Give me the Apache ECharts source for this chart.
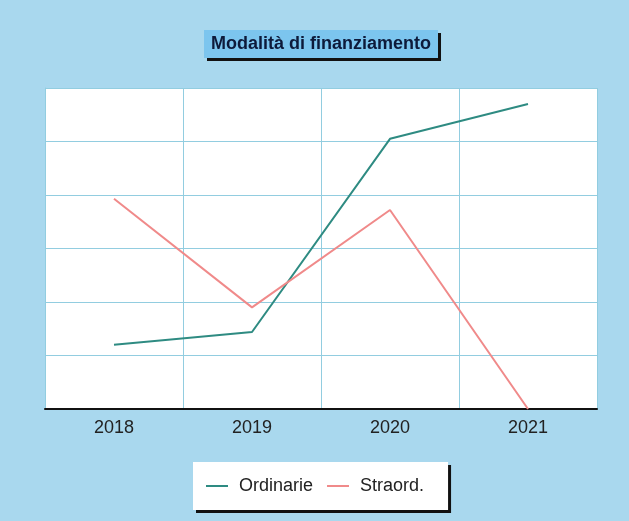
<!DOCTYPE html>
<html>
<head>
<meta charset="utf-8">
<script src="https://cdn.jsdelivr.net/npm/echarts@6/dist/echarts.min.js"></script>
<style>
  html, body { margin: 0; padding: 0; background: #a9d8ee; }
  #chart { width: 629px; height: 521px; }
</style>
</head>
<body>
<div id="chart"></div>
<script>
const years = ['2018', '2019', '2020', '2021']
const ordinarie = [1.2, 1.44, 5.05, 5.7]
const straord = [3.93, 1.9, 3.72, 0]

const chart = echarts.init(document.getElementById('chart'))

const option = {
  backgroundColor: '#a9d8ee',
  animation: false,
  title: {
    text: 'Modalità di finanziamento',
    left: 204,
    top: 30,
    padding: [5, 7, 5, 7],
    backgroundColor: '#7cc5ee',
    shadowColor: '#111',
    shadowOffsetX: 3,
    shadowOffsetY: 3,
    shadowBlur: 0,
    textStyle: {
      fontFamily: 'Liberation Sans, Arial, sans-serif',
      fontSize: 18,
      fontWeight: 'bold',
      color: '#0d1a3a'
    }
  },
  legend: {
    left: 193,
    top: 462,
    padding: [15, 24, 15, 13],
    itemGap: 14,
    itemWidth: 22,
    itemHeight: 2,
    backgroundColor: '#ffffff',
    shadowColor: '#111',
    shadowOffsetX: 3,
    shadowOffsetY: 3,
    shadowBlur: 0,
    data: [
      { name: 'Ordinarie', icon: 'rect' },
      { name: 'Straord.', icon: 'rect' }
    ],
    textStyle: {
      fontFamily: 'Liberation Sans, Arial, sans-serif',
      fontSize: 18,
      color: '#222',
      padding: [0, 0, 0, 6]
    }
  },
  grid: {
    left: 45,
    right: 32,
    top: 88,
    bottom: 112,
    show: true,
    backgroundColor: '#ffffff',
    borderWidth: 0
  },
  xAxis: {
    type: 'category',
    data: years,
    boundaryGap: true,
    axisLine: { lineStyle: { color: '#111', width: 2 } },
    axisTick: { show: false },
    axisLabel: {
      margin: 10,
      fontFamily: 'Liberation Sans, Arial, sans-serif',
      fontSize: 18,
      color: '#222'
    },
    splitLine: { show: true, interval: 0, lineStyle: { color: '#92cde0', width: 1 } }
  },
  yAxis: {
    type: 'value',
    min: 0,
    max: 6,
    interval: 1,
    axisLine: { show: true, lineStyle: { color: '#92cde0', width: 1 } },
    axisTick: { show: false },
    axisLabel: { show: false },
    splitLine: { show: true, lineStyle: { color: '#92cde0', width: 1 } }
  },
  series: [
    {
      name: 'Ordinarie',
      type: 'line',
      data: ordinarie,
      showSymbol: false,
      symbol: 'none',
      lineStyle: { color: '#2e8b82', width: 2 },
      itemStyle: { color: '#2e8b82' }
    },
    {
      name: 'Straord.',
      type: 'line',
      data: straord,
      showSymbol: false,
      symbol: 'none',
      lineStyle: { color: '#f08a8a', width: 2 },
      itemStyle: { color: '#f08a8a' }
    }
  ]
}

chart.setOption(option)
</script>
</body>
</html>
